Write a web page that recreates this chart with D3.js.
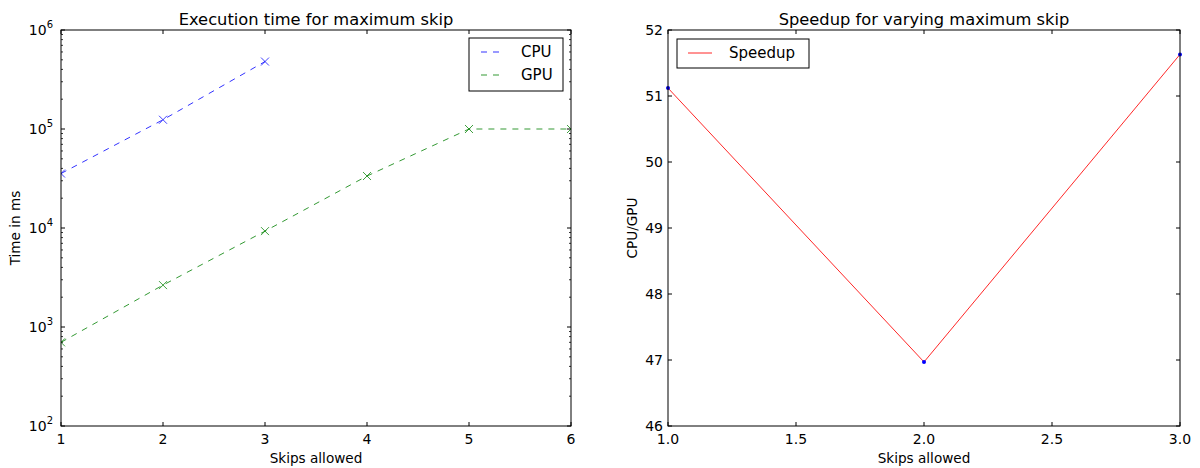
<!DOCTYPE html>
<html>
<head>
<meta charset="utf-8">
<script src="https://cdn.jsdelivr.net/npm/d3@7"></script>
<style>
  body { margin: 0; background: #fff; }
  svg { font-family: "DejaVu Sans", sans-serif; }
  .frame { fill: none; stroke: #000; stroke-width: 1; }
</style>
</head>
<body>
<svg id="chart" width="1200" height="468"></svg>
<script>
// data
var skips = [1, 2, 3, 4, 5, 6];
var cpuTime = [35500, 124000, 480000];
var gpuTime = [700, 2650, 9300, 33500, 100000, 100000];
var speedSkips = [1, 2, 3];
var speedup = [51.12, 46.97, 51.63];
var logTicks = [100, 1000, 10000, 100000, 1000000];
var speedTicks = [46, 47, 48, 49, 50, 51, 52];
var skipTicks = [1.0, 1.5, 2.0, 2.5, 3.0];

var svg = d3.select('#chart');

// ----- left panel
var L = { left: 61, right: 571, top: 30, bottom: 426 };
var x1 = d3.scaleLinear().domain([1, 6]).range([L.left, L.right]);
var y1 = d3.scaleLog().domain([100, 1000000]).range([L.bottom, L.top]);

var g1 = svg.append('g');
svg.append('clipPath').attr('id', 'clip1').append('rect')
    .attr('x', L.left).attr('y', L.top).attr('width', L.right - L.left).attr('height', L.bottom - L.top);

// minor log ticks
var minor = [];
for (var e = 2; e < 6; e++) {
  for (var m = 2; m < 10; m++) minor.push(m * Math.pow(10, e));
}

function drawFrame(g, b) {
  g.append('rect').attr('class', 'frame')
    .attr('x', b.left).attr('y', b.top)
    .attr('width', b.right - b.left).attr('height', b.bottom - b.top);
}

// x ticks (bottom + top, inward)
skips.forEach(function(v) {
  g1.append('line').attr('x1', x1(v)).attr('x2', x1(v)).attr('y1', L.bottom).attr('y2', L.bottom - 4).attr('stroke', '#000');
  g1.append('line').attr('x1', x1(v)).attr('x2', x1(v)).attr('y1', L.top).attr('y2', L.top + 4).attr('stroke', '#000');
  g1.append('text').attr('x', x1(v)).attr('y', L.bottom + 18).attr('text-anchor', 'middle')
    .attr('font-size', 14).text(v);
});
// y ticks major
logTicks.forEach(function(v) {
  g1.append('line').attr('x1', L.left).attr('x2', L.left + 4).attr('y1', y1(v)).attr('y2', y1(v)).attr('stroke', '#000');
  g1.append('line').attr('x1', L.right).attr('x2', L.right - 4).attr('y1', y1(v)).attr('y2', y1(v)).attr('stroke', '#000');
  var t = g1.append('text').attr('x', L.left - 8).attr('y', y1(v) + 5).attr('text-anchor', 'end').attr('font-size', 14);
  t.append('tspan').text('10');
  t.append('tspan').attr('font-size', 10).attr('dy', -7).text(Math.round(Math.log10(v)));
});
minor.forEach(function(v) {
  g1.append('line').attr('x1', L.left).attr('x2', L.left + 2).attr('y1', y1(v)).attr('y2', y1(v)).attr('stroke', '#000').attr('stroke-width', 0.8);
  g1.append('line').attr('x1', L.right).attr('x2', L.right - 2).attr('y1', y1(v)).attr('y2', y1(v)).attr('stroke', '#000').attr('stroke-width', 0.8);
});

var line1 = d3.line().x(function(d) { return x1(d[0]); }).y(function(d) { return y1(d[1]); });
var series = [
  { name: 'CPU', color: '#0000ff', vals: cpuTime },
  { name: 'GPU', color: '#008000', vals: gpuTime }
];
var plot1 = g1.append('g').attr('clip-path', 'url(#clip1)');
series.forEach(function(s) {
  var pts = s.vals.map(function(v, i) { return [skips[i], v]; });
  plot1.append('path').attr('d', line1(pts)).attr('fill', 'none')
    .attr('stroke', s.color).attr('stroke-opacity', 0.8).attr('stroke-dasharray', '6,6');
  pts.forEach(function(p) {
    var cx = x1(p[0]), cy = y1(p[1]), r = 4;
    plot1.append('path').attr('d', 'M' + (cx - r) + ',' + (cy - r) + 'L' + (cx + r) + ',' + (cy + r) + 'M' + (cx - r) + ',' + (cy + r) + 'L' + (cx + r) + ',' + (cy - r))
      .attr('stroke', s.color).attr('stroke-opacity', 0.75).attr('fill', 'none');
  });
});
drawFrame(g1, L);

g1.append('text').attr('x', (L.left + L.right) / 2).attr('y', 25).attr('text-anchor', 'middle')
  .attr('font-size', 16.3).text('Execution time for maximum skip');
g1.append('text').attr('x', (L.left + L.right) / 2).attr('y', 463).attr('text-anchor', 'middle')
  .attr('font-size', 13.6).text('Skips allowed');
g1.append('text').attr('transform', 'translate(20,' + ((L.top + L.bottom) / 2) + ') rotate(-90)')
  .attr('text-anchor', 'middle').attr('font-size', 13.6).text('Time in ms');

// legend left
var lg = g1.append('g').attr('transform', 'translate(469,38)');
lg.append('rect').attr('width', 94).attr('height', 53).attr('fill', '#fff').attr('stroke', '#000');
series.forEach(function(s, i) {
  var yy = 14 + i * 23;
  lg.append('line').attr('x1', 11).attr('x2', 35).attr('y1', yy).attr('y2', yy)
    .attr('stroke', s.color).attr('stroke-opacity', 0.8).attr('stroke-dasharray', '6,6').attr('stroke-dashoffset', -1);
  lg.append('text').attr('x', 52).attr('y', yy + 5).attr('font-size', 15).text(s.name);
});

// ----- right panel
var R = { left: 668, right: 1180, top: 30, bottom: 426 };
var x2 = d3.scaleLinear().domain([1, 3]).range([R.left, R.right]);
var y2 = d3.scaleLinear().domain([46, 52]).range([R.bottom, R.top]);
var g2 = svg.append('g');

skipTicks.forEach(function(v) {
  g2.append('line').attr('x1', x2(v)).attr('x2', x2(v)).attr('y1', R.bottom).attr('y2', R.bottom - 4).attr('stroke', '#000');
  g2.append('line').attr('x1', x2(v)).attr('x2', x2(v)).attr('y1', R.top).attr('y2', R.top + 4).attr('stroke', '#000');
  g2.append('text').attr('x', x2(v)).attr('y', R.bottom + 18).attr('text-anchor', 'middle')
    .attr('font-size', 14).text(v.toFixed(1));
});
speedTicks.forEach(function(v) {
  g2.append('line').attr('x1', R.left).attr('x2', R.left + 4).attr('y1', y2(v)).attr('y2', y2(v)).attr('stroke', '#000');
  g2.append('line').attr('x1', R.right).attr('x2', R.right - 4).attr('y1', y2(v)).attr('y2', y2(v)).attr('stroke', '#000');
  g2.append('text').attr('x', R.left - 5).attr('y', y2(v) + 5).attr('text-anchor', 'end')
    .attr('font-size', 14).text(v);
});

var line2 = d3.line().x(function(d, i) { return x2(speedSkips[i]); }).y(function(d) { return y2(d); });
g2.append('path').attr('d', line2(speedup)).attr('fill', 'none').attr('stroke', '#ff0000').attr('stroke-opacity', 0.85);
speedup.forEach(function(v, i) {
  g2.append('circle').attr('cx', x2(speedSkips[i])).attr('cy', y2(v)).attr('r', 2).attr('fill', '#0000ff');
});
drawFrame(g2, R);

g2.append('text').attr('x', (R.left + R.right) / 2).attr('y', 25).attr('text-anchor', 'middle')
  .attr('font-size', 16.3).text('Speedup for varying maximum skip');
g2.append('text').attr('x', (R.left + R.right) / 2).attr('y', 463).attr('text-anchor', 'middle')
  .attr('font-size', 13.6).text('Skips allowed');
g2.append('text').attr('transform', 'translate(637,' + ((R.top + R.bottom) / 2) + ') rotate(-90)')
  .attr('text-anchor', 'middle').attr('font-size', 13.6).text('CPU/GPU');

var lg2 = g2.append('g').attr('transform', 'translate(677,39)');
lg2.append('rect').attr('width', 132).attr('height', 29).attr('fill', '#fff').attr('stroke', '#000');
lg2.append('line').attr('x1', 11).attr('x2', 35).attr('y1', 14).attr('y2', 14).attr('stroke', '#ff0000').attr('stroke-opacity', 0.85);
lg2.append('text').attr('x', 52).attr('y', 19).attr('font-size', 15).text('Speedup');
</script>
</body>
</html>
